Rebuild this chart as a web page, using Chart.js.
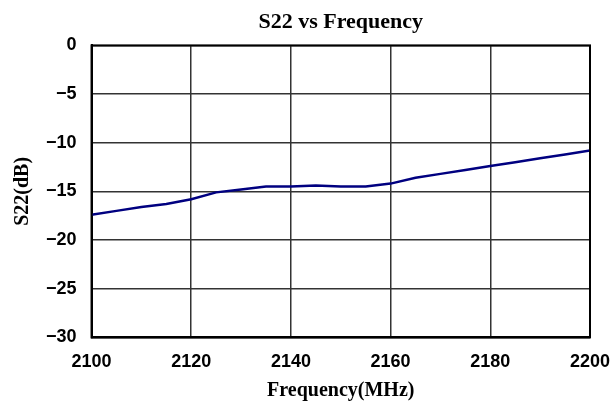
<!DOCTYPE html>
<html>
<head>
<meta charset="utf-8">
<script src="https://cdn.jsdelivr.net/npm/chart.js@4/dist/chart.umd.min.js"></script>
<style>
  html, body { margin: 0; padding: 0; background: #fff; }
  #wrap { width: 612px; height: 406px; }
</style>
</head>
<body>
<div id="wrap"><canvas id="s22Chart" width="612" height="406"></canvas></div>
<script>
// frequency points (MHz) and S22 readings (dB)
const freqs = [2100, 2105, 2110, 2115, 2120, 2125, 2130, 2135, 2140, 2145, 2150,
               2155, 2160, 2165, 2170, 2175, 2180, 2185, 2190, 2195, 2200];
const s22 = [-17.4, -17.0, -16.6, -16.3, -15.8, -15.1, -14.8, -14.5, -14.5, -14.4, -14.5,
             -14.5, -14.2, -13.6, -13.2, -12.8, -12.4, -12.0, -11.6, -11.2, -10.8];
const xTicks = [2100, 2120, 2140, 2160, 2180, 2200];
const yTicks = [0, -5, -10, -15, -20, -25, -30];

const tickFont = { family: 'Liberation Sans, Arial, sans-serif', size: 18, weight: 'bold' };
const axisTitleFont = { family: 'Liberation Serif, Times New Roman, serif', size: 20, weight: 'bold' };
const titleFont = { family: 'Liberation Serif, Times New Roman, serif', size: 22, weight: 'bold' };

const ctx = document.getElementById('s22Chart').getContext('2d');
new Chart(ctx, {
  type: 'line',
  data: {
    datasets: [{
      label: 'S22',
      data: freqs.map((f, i) => ({ x: f, y: s22[i] })),
      borderColor: '#000080',
      borderWidth: 2.5,
      pointRadius: 0,
      tension: 0,
      fill: false
    }]
  },
  options: {
    responsive: false,
    animation: false,
    // chart.js reserves tick padding twice, hence the negative title paddings
    layout: { padding: { top: 9, right: 22, bottom: 3, left: 11 } },
    plugins: {
      legend: { display: false },
      tooltip: { enabled: false },
      title: {
        display: true,
        text: 'S22 vs Frequency',
        fullSize: false,
        color: '#000',
        font: titleFont,
        padding: { top: 0, bottom: 10 }
      }
    },
    scales: {
      x: {
        type: 'linear',
        min: 2100,
        max: 2200,
        afterBuildTicks: (axis) => { axis.ticks = xTicks.map(v => ({ value: v })); },
        // let the last label hang into the right margin instead of shrinking the plot
        afterFit: (axis) => { axis.paddingRight = 0; },
        ticks: { color: '#000', font: tickFont, padding: 14, maxRotation: 0, callback: (v) => String(v) },
        grid: { color: '#333', lineWidth: 1.5, drawTicks: false },
        border: { color: '#000', width: 2 },
        title: { display: true, text: 'Frequency(MHz)', color: '#000', font: axisTitleFont, padding: { top: -8, bottom: 0 } }
      },
      y: {
        min: -30,
        max: 0,
        afterBuildTicks: (axis) => { axis.ticks = yTicks.map(v => ({ value: v })); },
        ticks: {
          color: '#000', font: tickFont, padding: 15,
          callback: (v) => String(v).replace('-', '\u2212')
        },
        grid: { color: '#333', lineWidth: 1.5, drawTicks: false },
        border: { color: '#000', width: 2 },
        title: { display: true, text: 'S22(dB)', color: '#000', font: axisTitleFont, padding: { top: 0, bottom: -4 } }
      }
    }
  },
  plugins: [{
    // close the plot frame on the top and right
    id: 'frame',
    afterDraw(chart) {
      const a = chart.chartArea;
      const c = chart.ctx;
      c.save();
      c.strokeStyle = '#000';
      c.lineWidth = 2;
      c.strokeRect(a.left, a.top, a.right - a.left, a.bottom - a.top);
      c.restore();
    }
  }]
});
</script>
</body>
</html>
